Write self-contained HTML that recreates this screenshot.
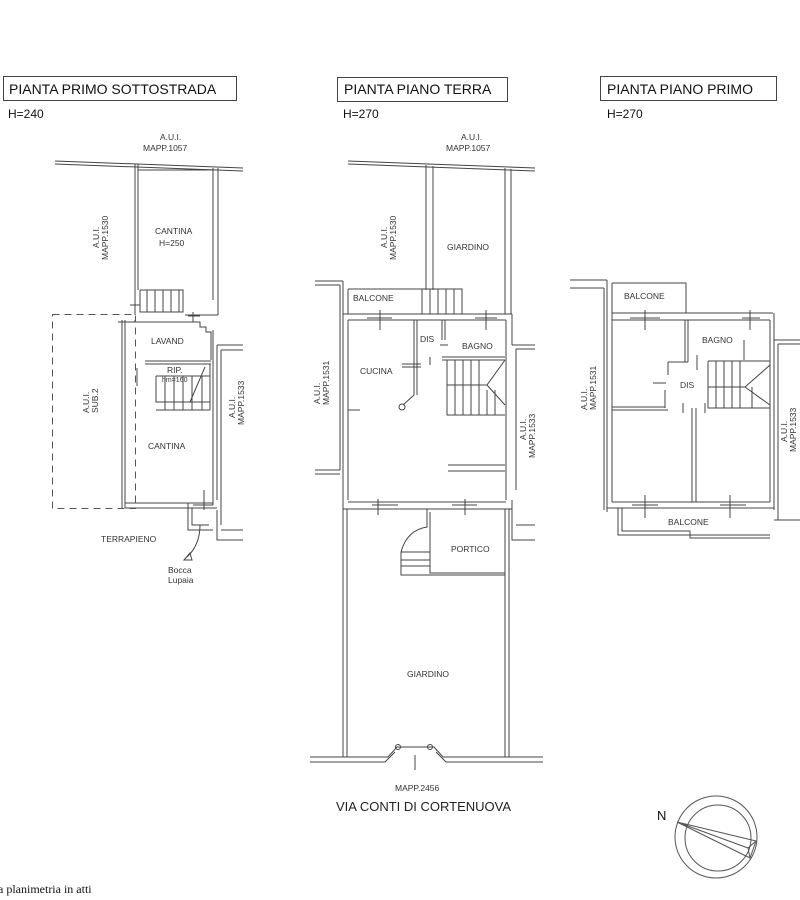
<!DOCTYPE html>
<html><head><meta charset="utf-8"><style>
html,body{margin:0;padding:0;background:#fff;width:800px;height:900px;overflow:hidden}
svg{display:block}
text{font-family:"Liberation Sans",sans-serif;fill:#333}
.s{font-size:8.5px}
.t{font-size:14px;fill:#111}
</style></head><body>
<svg width="800" height="900" viewBox="0 0 800 900" xmlns="http://www.w3.org/2000/svg">
<g fill="none" stroke="#444" stroke-width="1">
<rect x="3.5" y="76.5" width="233" height="24"/>
<rect x="337.5" y="77.5" width="170" height="24"/>
<rect x="600.5" y="76.5" width="176" height="24"/>

<path d="M55 161 L243 168 M55 164 L243 171"/>
<path d="M135 164 V315 M138 164 V290 M213 168 V300 M218 168 V315"/>
<path d="M138 170 H213 M140 290 V312 H183 V290 H140"/>
<path d="M147 290 V312 M155 290 V312 M163 290 V312 M171 290 V312 M179 290 V312"/>
<path d="M130 305 H140 M135 300 V310"/>
<path d="M193 312 V322 M188 316 H200 M185 315 H218"/>
<path d="M122 320 V508 M125 320 V508 M118 322 H135 V320 M125 322 H200 V327 H206 V332 H211 V360 M213 330 V505 M217 345 V500 M217 345 H243 M221 350 V525 M221 350 H243"/>
<path d="M145 361 H211 M145 364 H211"/>
<path d="M137 368 V386 M156 376 V402 H210 M156 410 H210 M156 376 H210 M165 376 V410 M174 376 V410 M183 376 V410 M192 376 V410 M202 376 V410 M205 367 L190 402 M210 364 V410"/>
<path d="M125 508 H217 M125 503 H213 M188 503 V530 H213 M192 508 V525 H209 M204 490 V510 M193 505 H213"/>
<path d="M217 510 V540 H243 M221 530 H243"/>
<path d="M200 525 Q200 545 187 557" />
<path d="M184 560 L190 553 L192 560 Z"/>
</g>
<rect x="52.5" y="314.5" width="83" height="194" fill="none" stroke="#555" stroke-dasharray="7,5"/>

<g fill="none" stroke="#444" stroke-width="1">
<path d="M348 161 L535 168 M348 164 L535 171"/>
<path d="M426 165 V290 M433 166 V290 M505 168 V314 M511 169 V314"/>
<path d="M348 289 H462 V314 M348 289 V314 M422 289 V314 M430 289 V314 M438 289 V314 M446 289 V314 M454 289 V314"/>
<path d="M315 281 H343 M315 285 H340 M340 285 V470 M343 281 V515"/>
<path d="M343 314 H512 M348 320 H506 M348 320 V500 M506 320 V500 M512 314 V345 M512 345 H535 M516 349 H535 M516 349 V490 M512 500 V540 H535 M516 525 H535"/>
<path d="M315 470 H340 M315 474 H340"/>
<path d="M367 318 H392 M380 310 V330 M475 318 H497 M486 310 V330"/>
<path d="M414 320 V395 L403 405 M417 320 V395 M402 364 H421 M402 367 H421"/>
<circle cx="402" cy="407" r="3"/>
<path d="M442 320 V340 M445 320 V340 M442 357 H505 M442 360 H505 M440 345 H448"/>
<path d="M430 357 V365"/>
<path d="M447 360 V415 H505 M455 360 V415 M463 360 V415 M471 360 V415 M479 360 V415 M487 390 V415 M495 390 V415 M447 385 H487 M487 385 L505 360 M487 385 L505 405"/>
<path d="M348 410 H360"/>
<path d="M448 465 H505 M448 471 H505"/>
<path d="M348 502 H506 M343 509 H512 M378 499 V515 M372 505 H398 M465 499 V515 M452 505 H477"/>
<path d="M343 509 V757 M347 509 V757 M505 509 V757 M509 509 V757"/>
<path d="M427 509 V527 Q407 530 401 552 V575 H505 M430 512 V573 H505 M401 560 H430 M401 566 H430 M401 552 H430"/>
<path d="M310 757 H388 L397 747 H434 L443 757 H543 M310 762 H385 L395 752 M436 752 L446 762 H543"/>
<circle cx="398" cy="747" r="2.5"/><circle cx="430" cy="747" r="2.5"/>
<path d="M415 755 V770"/>
</g>

<g fill="none" stroke="#444" stroke-width="1">
<path d="M570 280 H607 M570 288 H604 M604 288 V510 M607 280 V512 M612 283 V502"/>
<path d="M612 283 H686 V313 M612 313 H773 M612 320 H770"/>
<path d="M630 318 H660 M645 310 V330 M742 318 H760 M750 310 V330"/>
<path d="M770 320 V502 M774 313 V510 M774 340 H800 M778 344 H800 M778 344 V520 M774 520 H800"/>
<path d="M685 320 V362 M688 320 V362 M668 362 H688 M668 362 V375 M665 390 V408 M612 407 H665 M612 410 H668"/>
<path d="M744 340 V360 M697 355 V370 M653 383 H666"/>
<path d="M708 361 V408 H770 M716 361 V408 M724 361 V408 M732 361 V408 M740 361 V408 M752 387 V408 M708 387 H745 L770 365 M745 387 L770 405 M708 361 H770"/>
<path d="M683 403 V413 M705 403 V413 M692 408 V502 M696 408 V502"/>
<path d="M612 502 H770 M607 508 H774 M645 495 V518 M632 505 H658 M730 495 V518 M720 505 H746"/>
<path d="M618 508 V535 H770 M622 508 V531 H690 V538 H770"/>
</g>

<g fill="none" stroke="#555" stroke-width="1">
<circle cx="716" cy="837" r="41"/>
<circle cx="718" cy="838" r="33"/>
<path d="M677 822 L756 841 L750 858 Z M677 822 L748 848 L756 841 M748 848 L750 858"/>
</g>

<text class="t" x="9" y="94">PIANTA PRIMO SOTTOSTRADA</text>
<text class="t" x="344" y="94">PIANTA PIANO TERRA</text>
<text class="t" x="607" y="94">PIANTA PIANO PRIMO</text>
<text x="8" y="118" style="font-size:12px;fill:#111">H=240</text>
<text x="343" y="118" style="font-size:12px;fill:#111">H=270</text>
<text x="607" y="118" style="font-size:12px;fill:#111">H=270</text>

<text class="s" x="160" y="140">A.U.I.</text><text class="s" x="143" y="151">MAPP.1057</text>
<text class="s" x="461" y="140">A.U.I.</text><text class="s" x="446" y="151">MAPP.1057</text>

<text class="s" x="155" y="234">CANTINA</text><text class="s" x="159" y="246">H=250</text>
<text class="s" x="151" y="344">LAVAND</text>
<text class="s" x="167" y="373">RIP.</text>
<text class="s" x="162" y="382" style="font-size:7px">hm=160</text>
<text class="s" x="148" y="449">CANTINA</text>
<text class="s" x="101" y="542">TERRAPIENO</text>
<text class="s" x="168" y="573">Bocca</text><text class="s" x="168" y="583">Lupaia</text>

<text class="s" x="447" y="250">GIARDINO</text>
<text class="s" x="353" y="301">BALCONE</text>
<text class="s" x="420" y="342">DIS</text>
<text class="s" x="462" y="349">BAGNO</text>
<text class="s" x="360" y="374">CUCINA</text>
<text class="s" x="451" y="552">PORTICO</text>
<text class="s" x="407" y="677">GIARDINO</text>
<text class="s" x="395" y="791">MAPP.2456</text>
<text x="336" y="811" style="font-size:13px;fill:#222">VIA CONTI DI CORTENUOVA</text>

<text class="s" x="624" y="299">BALCONE</text>
<text class="s" x="702" y="343">BAGNO</text>
<text class="s" x="680" y="388">DIS</text>
<text class="s" x="668" y="525">BALCONE</text>

<text x="657" y="820" style="font-size:13px;fill:#111">N</text>
<text x="-2" y="893" style="font-family:'Liberation Serif',serif;font-size:12px;fill:#111">a planimetria in atti</text>

<g class="s">
<text class="s" transform="translate(99,248) rotate(-90)">A.U.I.</text>
<text class="s" transform="translate(108,260) rotate(-90)">MAPP.1530</text>
<text class="s" transform="translate(89,413) rotate(-90)">A.U.I.</text>
<text class="s" transform="translate(98,413) rotate(-90)">SUB.2</text>
<text class="s" transform="translate(235,418) rotate(-90)">A.U.I.</text>
<text class="s" transform="translate(244,425) rotate(-90)">MAPP.1533</text>

<text class="s" transform="translate(387,248) rotate(-90)">A.U.I.</text>
<text class="s" transform="translate(396,260) rotate(-90)">MAPP.1530</text>
<text class="s" transform="translate(320,404) rotate(-90)">A.U.I.</text>
<text class="s" transform="translate(329,405) rotate(-90)">MAPP.1531</text>
<text class="s" transform="translate(526,440) rotate(-90)">A.U.I.</text>
<text class="s" transform="translate(535,458) rotate(-90)">MAPP.1533</text>

<text class="s" transform="translate(587,410) rotate(-90)">A.U.I.</text>
<text class="s" transform="translate(596,410) rotate(-90)">MAPP.1531</text>
<text class="s" transform="translate(787,442) rotate(-90)">A.U.I.</text>
<text class="s" transform="translate(796,452) rotate(-90)">MAPP.1533</text>
</g>
</svg>
</body></html>
